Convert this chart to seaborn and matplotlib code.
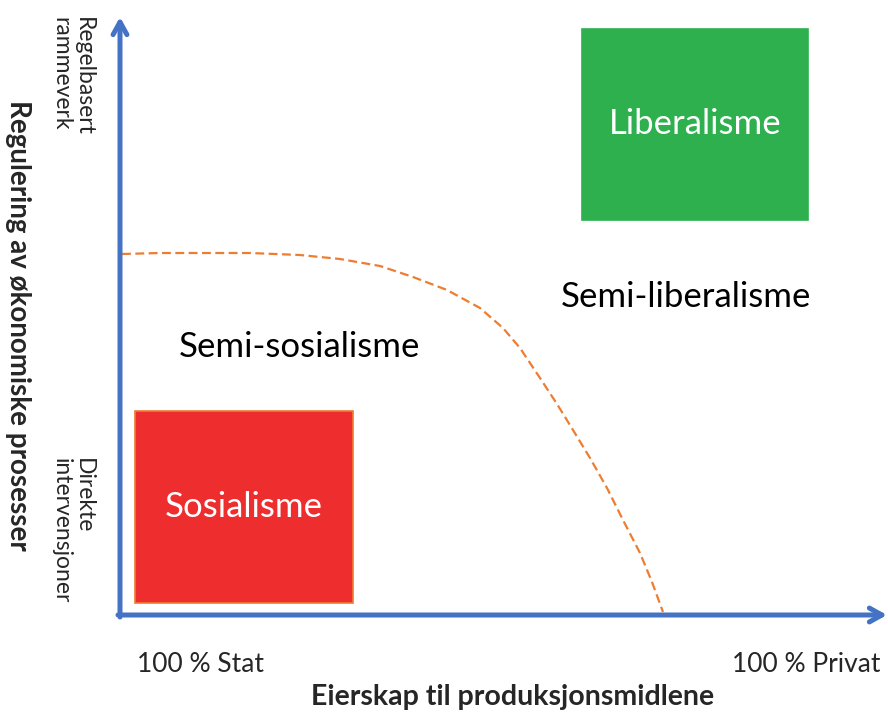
import matplotlib.pyplot as plt
import seaborn as sns
import pandas as pd
from matplotlib.patches import Rectangle

# Grense mellom semi-sosialisme og semi-liberalisme (pikselrom, y nedover)
grense_x = [122, 160, 200, 250, 300, 340, 380, 413, 447, 480, 503, 520,
            540, 557, 573, 590, 607, 623, 640, 652, 663]
grense_y = [254, 253, 253, 253, 255, 259, 266, 277, 290, 308, 328, 348,
            378, 404, 430, 458, 488, 520, 553, 582, 612]

# Bokser: navn, x0, y0, bredde, hoyde, farge
boks_navn = ['Liberalisme', 'Sosialisme']
boks_x = [582, 135]
boks_y = [29, 411]
boks_b = [226, 218]
boks_h = [191, 192]
boks_farge = ['#2EB04F', '#EE2E2E']

omrade_navn = ['Semi-sosialisme', 'Semi-liberalisme']
omrade_x = [299, 686]
omrade_y = [347, 297]

sns.set_style('white')
plt.rcParams['font.family'] = ['Lato', 'DejaVu Sans']

fig = plt.figure(figsize=(8.88, 7.13), dpi=100)
ax = fig.add_axes([0, 0, 1, 1])
ax.set_xlim(0, 888)
ax.set_ylim(713, 0)
ax.axis('off')

df = pd.DataFrame({'x': grense_x, 'y': grense_y})
sns.lineplot(data=df, x='x', y='y', ax=ax, color='#ED7D31', lw=1.6,
             linestyle=(0, (4, 2)), sort=False, estimator=None)

for navn, x, y, b, h, f in zip(boks_navn, boks_x, boks_y, boks_b, boks_h, boks_farge):
    ax.add_patch(Rectangle((x, y), b, h, facecolor=f,
                           edgecolor='#ED7D31' if navn == 'Sosialisme' else f, lw=1.2))
    ax.text(x + b / 2, y + h / 2, navn, color='white', fontsize=25,
            ha='center', va='center')

for navn, x, y in zip(omrade_navn, omrade_x, omrade_y):
    ax.text(x, y, navn, fontsize=25, ha='center', va='center', color='black')

# Akser med piler
pil = dict(arrowstyle='->,head_length=0.9,head_width=0.5', color='#4472C4', lw=3.6,
           shrinkA=0, shrinkB=0)
ax.annotate('', xy=(120, 17), xytext=(120, 617), arrowprops=pil)
ax.annotate('', xy=(887, 615), xytext=(118, 615), arrowprops=pil)

ax.text(200, 665, '100 % Stat', fontsize=19, ha='center', va='center')
ax.text(806, 665, '100 % Privat', fontsize=19, ha='center', va='center')
ax.text(513, 697, 'Eierskap til produksjonsmidlene', fontsize=20.5, fontweight='bold',
        ha='center', va='center')
ax.text(18, 325, 'Regulering av økonomiske prosesser', fontsize=20, fontweight='bold',
        rotation=270, ha='center', va='center')
ax.text(72, 17, 'Regelbasert\nrammeverk', fontsize=16.5, rotation=270,
        ha='center', va='top', multialignment='left', linespacing=1.05)
ax.text(72, 458, 'Direkte\nintervensjoner', fontsize=16.5, rotation=270,
        ha='center', va='top', multialignment='left', linespacing=1.05)

fig.savefig('out.png', dpi=100)
